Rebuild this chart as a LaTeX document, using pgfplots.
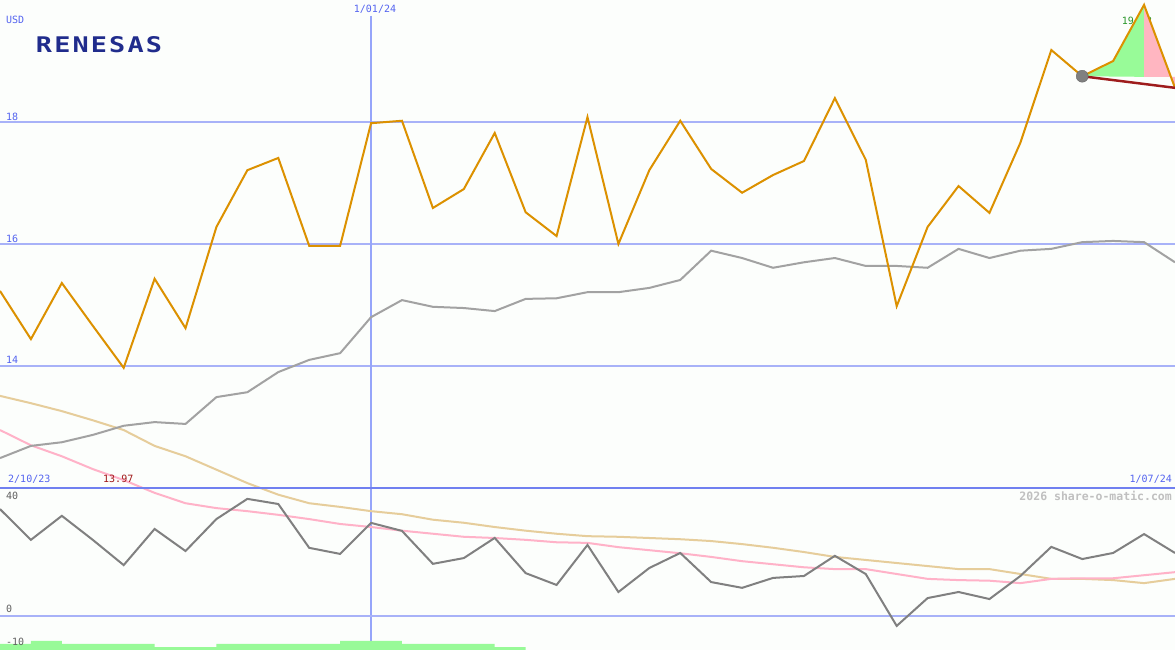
\documentclass[border=0pt]{standalone}
\usepackage{pgfplots}
\pgfplotsset{compat=1.18}
\usepackage{pgfplotstable}
\usepackage{graphicx}
\usepackage{fontspec}
\setmainfont{Liberation Sans}
\setmonofont{DejaVu Sans Mono}

\definecolor{bgc}{RGB}{252,254,252}
\definecolor{orng}{RGB}{220,145,0}
\definecolor{magray}{RGB}{162,162,162}
\definecolor{oscgray}{RGB}{128,128,128}
\definecolor{tanc}{RGB}{230,205,155}
\definecolor{pinkc}{RGB}{255,178,200}
\definecolor{gridb}{RGB}{168,178,248}
\definecolor{vgrid}{RGB}{150,165,250}
\definecolor{sepb}{RGB}{112,128,240}
\definecolor{txtb}{RGB}{84,100,240}
\definecolor{volg}{RGB}{152,250,152}
\definecolor{fillg}{RGB}{152,251,152}
\definecolor{fillp}{RGB}{255,182,193}
\definecolor{dred}{RGB}{158,28,28}
\definecolor{logob}{RGB}{32,44,140}
\definecolor{wmark}{RGB}{192,192,192}
\definecolor{lowred}{RGB}{160,24,24}
\definecolor{hig}{RGB}{40,150,40}
\definecolor{osctxt}{RGB}{96,96,96}

\pgfplotstableread{
i price ma tan pink osc
0 15.23 12.49 13.51 12.95 33.4
1 14.44 12.69 13.39 12.70 23.8
2 15.36 12.75 13.26 12.52 31.3
3 14.66 12.87 13.11 12.31 23.8
4 13.97 13.02 12.95 12.13 15.9
5 15.43 13.08 12.69 11.92 27.2
6 14.62 13.05 12.52 11.75 20.3
7 16.28 13.49 12.30 11.67 30.3
8 17.21 13.57 12.08 11.62 36.6
9 17.41 13.90 11.89 11.56 35.0
10 15.97 14.10 11.75 11.49 21.3
11 15.97 14.21 11.69 11.41 19.4
12 17.98 14.80 11.62 11.36 29.1
13 18.02 15.08 11.57 11.30 26.6
14 16.59 14.97 11.48 11.25 16.3
15 16.90 14.95 11.43 11.20 18.1
16 17.82 14.90 11.36 11.18 24.4
17 16.52 15.10 11.30 11.15 13.4
18 16.13 15.11 11.25 11.11 9.7
19 18.08 15.21 11.21 11.10 22.2
20 16.00 15.21 11.20 11.03 7.5
21 17.21 15.28 11.18 10.98 15.0
22 18.02 15.41 11.16 10.93 19.7
23 17.23 15.89 11.13 10.87 10.6
24 16.84 15.77 11.08 10.80 8.8
25 17.13 15.61 11.02 10.75 11.9
26 17.36 15.70 10.95 10.70 12.5
27 18.39 15.77 10.87 10.67 18.8
28 17.38 15.64 10.82 10.67 13.1
29 14.98 15.64 10.77 10.59 -3.1
30 16.28 15.61 10.72 10.51 5.6
31 16.95 15.92 10.67 10.49 7.5
32 16.51 15.77 10.67 10.48 5.3
33 17.66 15.89 10.59 10.44 12.5
34 19.18 15.92 10.51 10.51 21.6
35 18.75 16.03 10.51 10.52 17.8
36 19.00 16.05 10.49 10.52 19.7
37 19.92 16.03 10.44 10.57 25.6
38 18.56 15.70 10.51 10.62 19.7
}\data

\pgfplotsset{
  base/.style={at={(0pt,0pt)},anchor=south west,width=1175pt,height=650pt,
    scale only axis,xmin=0,xmax=38,hide axis},
  priceax/.style={base,ymin=9.344,ymax=20},
  oscax/.style={base,ymin=-10.625,ymax=192.5},
}

\begin{document}
\begin{tikzpicture}
\useasboundingbox (0pt,0pt) rectangle (1175pt,650pt);
\fill[bgc] (0pt,0pt) rectangle (1175pt,650pt);

% price axis: grid and averages
\begin{axis}[priceax]
\draw[gridb,line width=2pt] (axis cs:0,18) -- (axis cs:38,18);
\draw[gridb,line width=2pt] (axis cs:0,16) -- (axis cs:38,16);
\draw[gridb,line width=2pt] (axis cs:0,14) -- (axis cs:38,14);
\draw[vgrid,line width=1.3pt] (axis cs:12,19.74) -- (axis cs:12,9.344);
\addplot[tanc,line width=2pt] table[x=i,y=tan] {\data};
\addplot[pinkc,line width=2pt] table[x=i,y=pink] {\data};
\addplot[magray,line width=2pt] table[x=i,y=ma] {\data};
\end{axis}

% oscillator axis
\begin{axis}[oscax]
\addplot[fill=volg,draw=none] coordinates {(0,-10.625) (0,-8.75) (1,-8.75) (1,-7.81) (2,-7.81) (2,-8.75) (5,-8.75) (5,-9.69) (7,-9.69) (7,-8.75) (11,-8.75) (11,-7.81) (13,-7.81) (13,-8.75) (16,-8.75) (16,-9.69) (17,-9.69) (17,-10.625)} -- cycle;
\draw[sepb,line width=2pt] (axis cs:0,40) -- (axis cs:38,40);
\draw[gridb,line width=2pt] (axis cs:0,0) -- (axis cs:38,0);
\addplot[oscgray,line width=2pt] table[x=i,y=osc] {\data};
\end{axis}

% text under the price line
\node[anchor=center,text=hig,font=\ttfamily\fontsize{10}{10}\selectfont] at (1137pt,629pt) {19.92};

% price axis: fills, price, markers
\begin{axis}[priceax]
\addplot[fill=fillg,draw=none] coordinates {(35,18.75) (36,19.00) (37,19.92) (37,18.74)} -- cycle;
\addplot[fill=fillp,draw=none] coordinates {(37,19.92) (38,18.56) (38,18.74) (37,18.74)} -- cycle;
\addplot[orng,line width=2pt] table[x=i,y=price] {\data};
\addplot[dred,line width=2.5pt] coordinates {(35,18.75) (38,18.56)};
\addplot[only marks,mark=*,mark size=6pt,mark options={fill=oscgray,draw=oscgray!80!black}] coordinates {(35,18.75)};
\end{axis}

% labels
\begin{scope}[every node/.style={font=\ttfamily\fontsize{10}{10}\selectfont,inner sep=0pt}]
\node[anchor=west,text=txtb] at (6pt,630pt) {USD};
\node[anchor=west,text=txtb] at (6pt,533pt) {18};
\node[anchor=west,text=txtb] at (6pt,411pt) {16};
\node[anchor=west,text=txtb] at (6pt,290pt) {14};
\node[anchor=center,text=txtb] at (375pt,641pt) {1/01/24};
\node[anchor=west,text=txtb] at (8pt,171pt) {2/10/23};
\node[anchor=west,text=lowred] at (103pt,171pt) {13.97};
\node[anchor=east,text=txtb] at (1172pt,171pt) {1/07/24};
\node[anchor=west,text=osctxt] at (6pt,154pt) {40};
\node[anchor=west,text=osctxt] at (6pt,41pt) {0};
\node[anchor=west,text=osctxt] at (6pt,8pt) {-10};
\node[anchor=east,text=wmark,font=\ttfamily\bfseries\fontsize{11.5}{11.5}\selectfont] at (1172pt,154pt) {2026 share-o-matic.com};
\node[anchor=center,text=logob] at (99pt,605.5pt) {\resizebox{126pt}{16pt}{\bfseries R\kern0.08em E\kern0.08em N\kern0.08em E\kern0.08em S\kern0.08em A\kern0.08em S}};
\end{scope}
\end{tikzpicture}
\end{document}
